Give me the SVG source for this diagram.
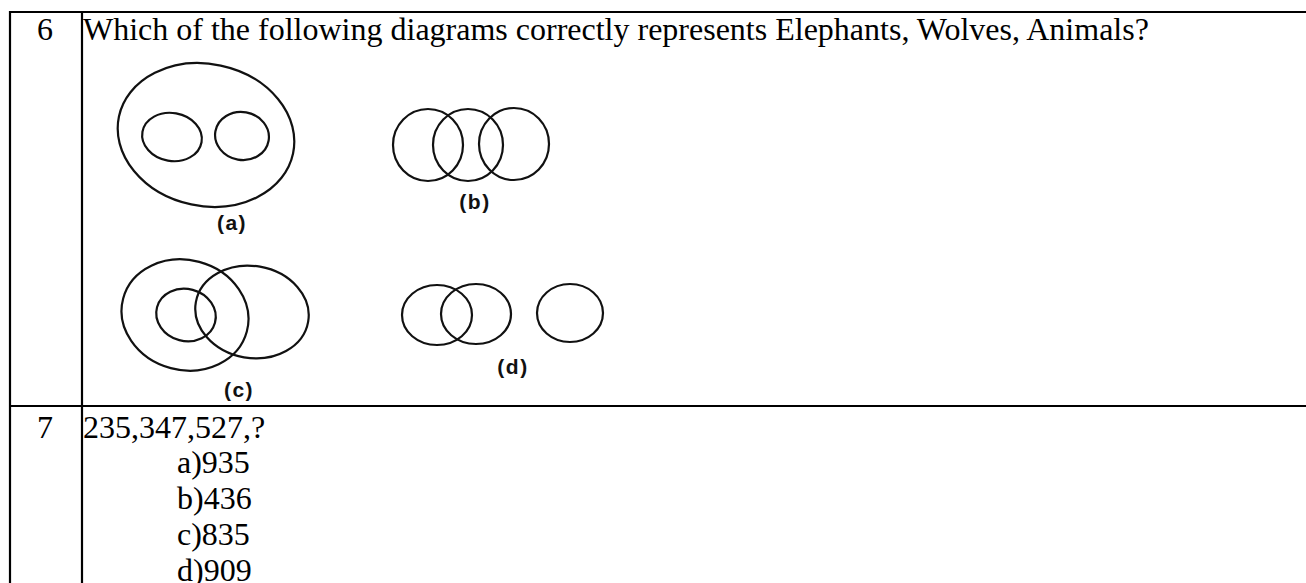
<svg xmlns="http://www.w3.org/2000/svg" width="1306" height="583" viewBox="0 0 1306 583">
<style>
.t{font-family:"Liberation Serif","Times New Roman",serif;font-size:32px;fill:#000}
.l{font-family:"Liberation Sans",Arial,sans-serif;font-size:21px;font-weight:bold;letter-spacing:1.5px;fill:#111}
.c{fill:none;stroke:#111;stroke-width:2.2}
.g{stroke:#000;stroke-width:2.2;fill:none}
</style>
<rect width="1306" height="583" fill="#fff"/>
<g id="grid">
<line class="g" x1="9" y1="12" x2="1306" y2="12"/>
<line class="g" x1="9" y1="406" x2="1306" y2="406"/>
<line class="g" x1="10" y1="11" x2="10" y2="583"/>
<line class="g" x1="82" y1="11" x2="82" y2="583"/>
</g>
<g id="q6">
<text class="t" x="37" y="40">6</text>
<text class="t" x="83" y="40">Which of the following diagrams correctly represents Elephants, Wolves, Animals?</text>
</g>
<g id="diag-a">
<ellipse class="c" cx="206" cy="135" rx="89" ry="71" transform="rotate(12 206 135)"/>
<ellipse class="c" cx="172" cy="137" rx="30" ry="24" transform="rotate(10 172 137)"/>
<ellipse class="c" cx="242" cy="136" rx="27" ry="24" transform="rotate(10 242 136)"/>
<text class="l" x="232" y="230" text-anchor="middle">(a)</text>
</g>
<g id="diag-b">
<ellipse class="c" cx="428" cy="145" rx="35" ry="36"/>
<ellipse class="c" cx="468" cy="145" rx="35" ry="36"/>
<ellipse class="c" cx="514" cy="144" rx="35" ry="36"/>
<text class="l" x="475" y="209" text-anchor="middle">(b)</text>
</g>
<g id="diag-c">
<ellipse class="c" cx="185" cy="315" rx="64" ry="55" transform="rotate(15 185 315)"/>
<ellipse class="c" cx="252" cy="312" rx="57" ry="46" transform="rotate(10 252 312)"/>
<ellipse class="c" cx="186" cy="315" rx="30" ry="26" transform="rotate(15 186 315)"/>
<text class="l" x="239" y="397" text-anchor="middle">(c)</text>
</g>
<g id="diag-d">
<ellipse class="c" cx="437" cy="315" rx="35" ry="30"/>
<ellipse class="c" cx="476" cy="314" rx="35" ry="30"/>
<ellipse class="c" cx="570" cy="313" rx="33" ry="29"/>
<text class="l" x="513" y="374" text-anchor="middle">(d)</text>
</g>
<g id="q7">
<text class="t" x="37" y="438">7</text>
<text class="t" x="83" y="438">235,347,527,?</text>
<text class="t" x="177" y="473">a)935</text>
<text class="t" x="177" y="509">b)436</text>
<text class="t" x="177" y="545">c)835</text>
<text class="t" x="177" y="581">d)909</text>
</g>
</svg>
